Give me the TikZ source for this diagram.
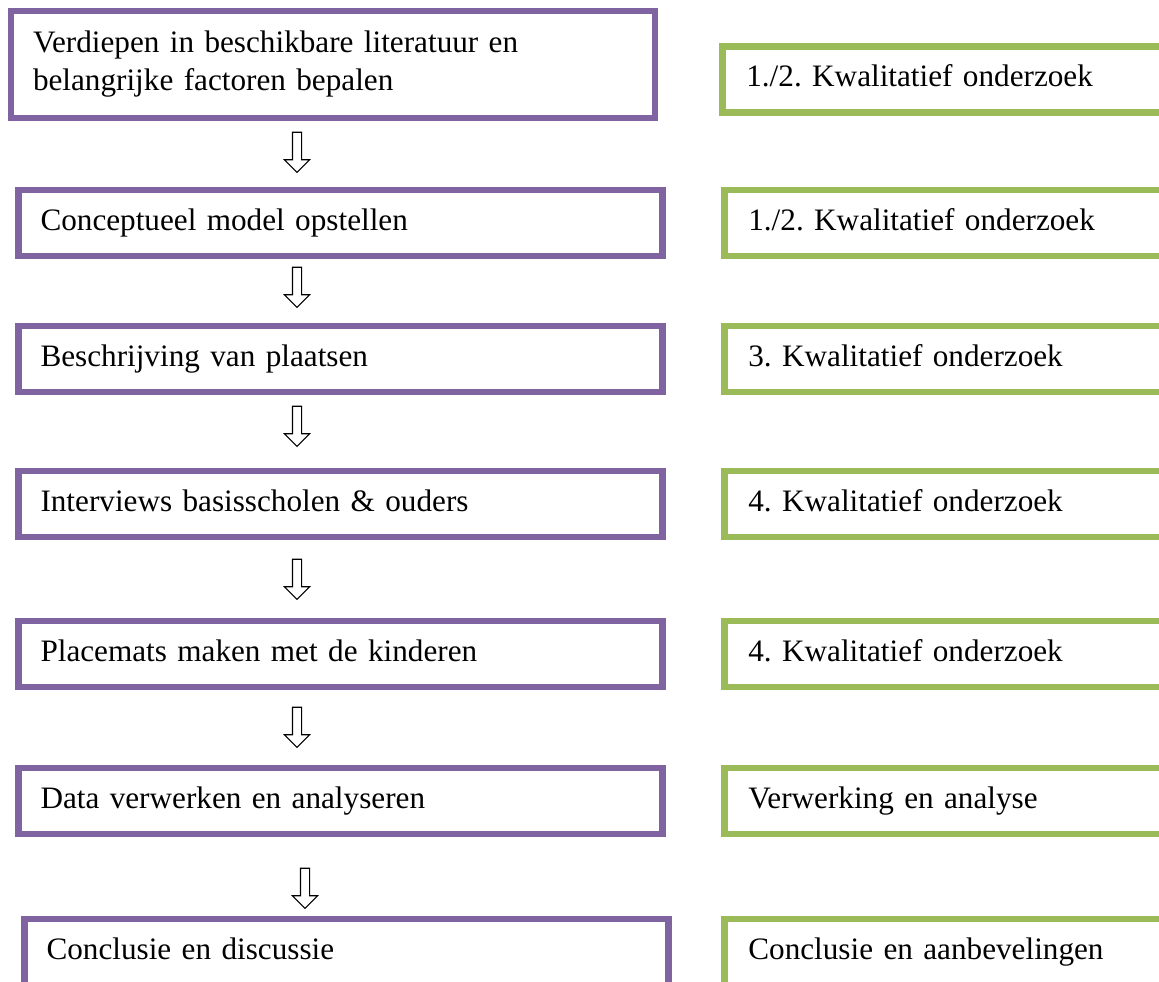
\documentclass[tikz,border=0pt]{standalone}
\usepackage{fontspec}
\setmainfont{Liberation Serif}
\usetikzlibrary{positioning,shapes.arrows}
\definecolor{lila}{HTML}{8064A2}
\definecolor{groen}{HTML}{9BBB59}
\frenchspacing

\begin{document}
\begin{tikzpicture}[x=0.75pt,y=-0.75pt,font=\fontsize{23.4}{28.5}\selectfont,
    stap/.style={draw=lila, line width=4.8pt, align=left, text width=450pt, inner xsep=16.5pt, inner ysep=0pt, minimum height=49.5pt, text height=1.25em, text depth=0.2em},
    soort/.style={draw=groen, line width=4.8pt, align=left, text width=322pt, inner xsep=18pt, inner ysep=0pt, minimum height=49.5pt, text height=1.25em, text depth=0.2em},
    pijl/.style={draw, fill=white, line width=0.8pt, single arrow, shape border rotate=270, minimum height=30pt, inner sep=3pt, single arrow head extend=6pt, single arrow tip angle=90}]
        \useasboundingbox (0,0) rectangle (1159,981);
        \clip (0,0) rectangle (1159,981);
        % linker kolom: stappen
        \node[stap, minimum height=80pt, text depth=28.5pt+0.2em] (stap1) at (333,64.5) {Verdiepen in beschikbare literatuur en\\belangrijke factoren bepalen};
        \node[stap] (stap2) at (340.5,223) {Conceptueel model opstellen};
        \node[stap] (stap3) at (340.5,359) {Beschrijving van plaatsen};
        \node[stap] (stap4) at (340.5,504) {Interviews basisscholen \& ouders};
        \node[stap] (stap5) at (340.5,654) {Placemats maken met de kinderen};
        \node[stap] (stap6) at (340.5,801) {Data verwerken en analyseren};
        \node[stap] (stap7) at (346.5,952) {Conclusie en discussie};
        % rechter kolom: soort onderzoek
        \node[soort] (soort1) at (961,79.5) {1./2. Kwalitatief onderzoek};
        \node[soort] (soort2) at (963,223) {1./2. Kwalitatief onderzoek};
        \node[soort] (soort3) at (963,359) {3. Kwalitatief onderzoek};
        \node[soort] (soort4) at (963,504) {4. Kwalitatief onderzoek};
        \node[soort] (soort5) at (963,654) {4. Kwalitatief onderzoek};
        \node[soort] (soort6) at (963,801) {Verwerking en analyse};
        \node[soort] (soort7) at (963,952) {Conclusie en aanbevelingen};
        % pijlen
        \node[pijl] (pijl1) at (297,150) {};
        \node[pijl] (pijl2) at (297,285) {};
        \node[pijl] (pijl3) at (297,424) {};
        \node[pijl] (pijl4) at (297,577) {};
        \node[pijl] (pijl5) at (297,725) {};
        \node[pijl] (pijl6) at (305,886) {};
      \end{tikzpicture}
\end{document}
